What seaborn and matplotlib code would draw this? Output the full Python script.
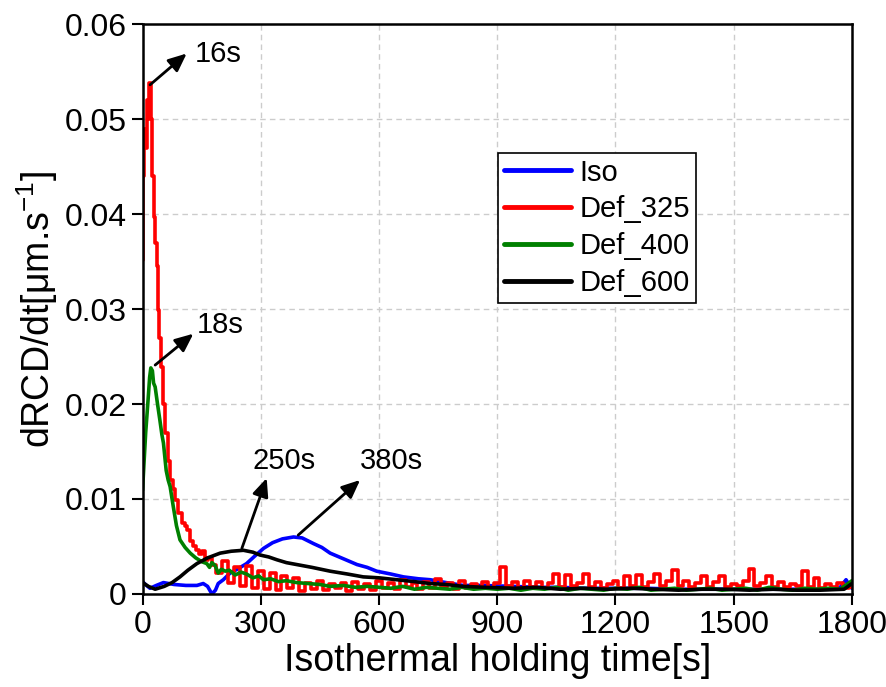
import numpy as np
import pandas as pd
import matplotlib
matplotlib.use("Agg")
import matplotlib.pyplot as plt
import seaborn as sns

## Data (time in s, rate in um/s)
iso_t = [0, 10, 19, 35, 53, 80, 110, 138, 154, 165, 176, 185, 192, 205, 222, 240,
         264, 285, 307, 330, 355, 383, 405, 434, 455, 476, 510, 544, 570, 594, 630,
         662, 700, 730, 770, 814, 860, 941, 1000, 1060, 1120, 1200, 1280, 1360, 1440,
         1520, 1600, 1680, 1740, 1770, 1785, 1795, 1800]
iso_v = [0.0013, 0.0009, 0.0006, 0.0009, 0.0012, 0.0010, 0.0009, 0.0009, 0.0011, 0.0008,
         0.0000, 0.0004, 0.0011, 0.0015, 0.0022, 0.0026, 0.0032, 0.0040, 0.0048, 0.0054,
         0.0058, 0.0060, 0.0059, 0.0053, 0.0049, 0.0043, 0.0037, 0.0031, 0.0028, 0.0024,
         0.0021, 0.0018, 0.0016, 0.0015, 0.0012, 0.0009, 0.0009, 0.0008, 0.0007, 0.0007,
         0.0006, 0.0006, 0.0006, 0.0005, 0.0005, 0.0005, 0.0005, 0.0005, 0.0005, 0.0007,
         0.0015, 0.0008, 0.0006]

d325_t_early = [0, 3, 6, 9, 12, 15, 19, 23, 27, 31, 34, 37, 40, 44, 49, 55, 61, 67, 74,
                80, 87, 95, 103, 110, 116, 124, 133, 140, 148, 155, 163, 170]
d325_v_early = [0.0352, 0.044, 0.049, 0.047, 0.052, 0.050, 0.0538, 0.050, 0.044, 0.0397,
                0.037, 0.0345, 0.0299, 0.027, 0.0239, 0.020, 0.0169, 0.014, 0.012, 0.011,
                0.0099, 0.0085, 0.0075, 0.0072, 0.0067, 0.0056, 0.005, 0.0046, 0.0042,
                0.0045, 0.0036, 0.0038]
# noisy tail, one value every 15 s from 180 s
d325_v_tail = [0.0030, 0.0022, 0.0035, 0.0012, 0.0028, 0.0008, 0.0029, 0.0006, 0.0024, 0.0005,
               0.0022, 0.0004, 0.0019, 0.0006, 0.0017, 0.0003, 0.0012, 0.0005, 0.0014, 0.0004,
               0.0010, 0.0006, 0.0012, 0.0003, 0.0013, 0.0005, 0.0011, 0.0004, 0.0014, 0.0006,
               0.0012, 0.0005, 0.0015, 0.0007, 0.0012, 0.0005, 0.0013, 0.0006, 0.0016, 0.0007,
               0.0012, 0.0005, 0.0014, 0.0006, 0.0011, 0.0007, 0.0013, 0.0006, 0.0012, 0.0028,
               0.0008, 0.0013, 0.0006, 0.0014, 0.0007, 0.0013, 0.0006, 0.0012, 0.0021, 0.0007,
               0.0020, 0.0008, 0.0012, 0.0021, 0.0007, 0.0013, 0.0006, 0.0011, 0.0014, 0.0006,
               0.0019, 0.0008, 0.0020, 0.0007, 0.0013, 0.0021, 0.0008, 0.0014, 0.0025, 0.0008,
               0.0014, 0.0007, 0.0012, 0.0019, 0.0007, 0.0013, 0.0019, 0.0007, 0.0011, 0.0008,
               0.0014, 0.0026, 0.0008, 0.0012, 0.0019, 0.0007, 0.0013, 0.0007, 0.0011, 0.0008,
               0.0024, 0.0007, 0.0017, 0.0006, 0.0010, 0.0007, 0.0012, 0.0006, 0.0007]
d325_t = d325_t_early + [180 + 15 * i for i in range(len(d325_v_tail))]
d325_v = d325_v_early + d325_v_tail

d400_t = [0, 4, 8, 11, 15, 18, 21, 25, 28, 32, 38, 44, 49, 53, 60, 65, 70, 78, 86, 95,
          108, 121, 135, 150, 163, 170, 176, 184, 192, 200, 210, 220, 235, 250, 264, 280,
          295, 307, 325, 345, 365, 391, 420, 450, 476, 510, 540, 570, 603,
          630, 660, 690, 720, 750, 780, 810, 840, 870, 900, 930, 960, 990, 1020, 1050,
          1080, 1110, 1140, 1170, 1200, 1230, 1260, 1290, 1320, 1350, 1380, 1410, 1440,
          1470, 1500, 1530, 1560, 1590, 1620, 1650, 1680, 1710, 1740, 1770, 1800]
d400_v = [0.0109, 0.014, 0.017, 0.0187, 0.021, 0.0228, 0.0238, 0.0235, 0.0222, 0.0218,
          0.020, 0.0183, 0.0168, 0.0159, 0.013, 0.012, 0.0113, 0.0092, 0.0072, 0.0057,
          0.0049, 0.0043, 0.0038, 0.0034, 0.0032, 0.0028, 0.0033, 0.0030, 0.0022, 0.0026,
          0.0024, 0.0025, 0.0020, 0.0023, 0.0021, 0.0017, 0.0019, 0.0015, 0.0016, 0.0013,
          0.0014, 0.0012, 0.0011, 0.0010, 0.0008, 0.0009, 0.0007, 0.0008, 0.0007,
          0.0006, 0.0008, 0.0005, 0.0007, 0.0006, 0.0005, 0.0007, 0.0005, 0.0006, 0.0005,
          0.0006, 0.0004, 0.0006, 0.0005, 0.0007, 0.0004, 0.0006, 0.0005, 0.0004, 0.0006,
          0.0005, 0.0007, 0.0004, 0.0005, 0.0006, 0.0004, 0.0005, 0.0006, 0.0004, 0.0005,
          0.0006, 0.0004, 0.0007, 0.0005, 0.0004, 0.0006, 0.0005, 0.0006, 0.0005, 0.0014]

d600_t = [0, 15, 32, 55, 75, 95, 115, 138, 165, 197, 225, 256, 280, 298, 320, 341, 365,
          391, 430, 476, 520, 560, 600, 645, 690, 730, 770, 814, 870, 941, 1000, 1060,
          1120, 1180, 1240, 1300, 1360, 1420, 1480, 1540, 1600, 1660, 1720, 1780, 1800]
d600_v = [0.0012, 0.0008, 0.0005, 0.0008, 0.0012, 0.0018, 0.0025, 0.0032, 0.0038, 0.0043,
          0.0045, 0.0046, 0.0044, 0.0041, 0.0039, 0.0036, 0.0033, 0.0031, 0.0028, 0.0024,
          0.0021, 0.0018, 0.0017, 0.0015, 0.0013, 0.0011, 0.0010, 0.0008, 0.0007, 0.0006,
          0.0007, 0.0005, 0.0006, 0.0005, 0.0006, 0.0005, 0.0004, 0.0005, 0.0005, 0.0004,
          0.0005, 0.0004, 0.0004, 0.0005, 0.0011]

SERIES = [("Iso", iso_t, iso_v, "#0000ff", "default"),
          ("Def_325", d325_t, d325_v, "#ff0000", "steps-mid"),
          ("Def_400", d400_t, d400_v, "#008000", "default"),
          ("Def_600", d600_t, d600_v, "#000000", "default")]

## Peak annotations: label, arrow tail, arrow head, text position
PEAKS = [("16s", (19, 0.0536), (112, 0.0569), (133, 0.0568), "left"),
         ("18s", (32, 0.0241), (129, 0.0274), (138, 0.0283), "left"),
         ("250s", (252, 0.0048), (315, 0.0122), (359, 0.0140), "center"),
         ("380s", (395, 0.0062), (552, 0.0120), (631, 0.0140), "center")]

X_TICKS = [0, 300, 600, 900, 1200, 1500, 1800]
Y_TICKS = [0, 0.01, 0.02, 0.03, 0.04, 0.05, 0.06]


sns.set_style("ticks")
plt.rcParams["font.family"] = ["Liberation Sans", "DejaVu Sans"]
plt.rcParams["mathtext.fontset"] = "custom"
plt.rcParams["mathtext.rm"] = "Liberation Sans"
plt.rcParams["text.color"] = "black"
plt.rcParams["axes.labelcolor"] = "black"
plt.rcParams["xtick.color"] = "black"
plt.rcParams["ytick.color"] = "black"

fig, ax = plt.subplots(figsize=(8.87, 6.87), dpi=100)
fig.subplots_adjust(left=0.1607, right=0.9605, top=0.965, bottom=0.1354)

for name, t, v, col, ds in SERIES:
    df = pd.DataFrame({"t": t, "v": v})
    sns.lineplot(data=df, x="t", y="v", color=col, lw=2.6, label=name, ax=ax,
                 estimator=None, sort=False, drawstyle=ds)

# arrows pointing from each peak to its label
for lab, tail, head, txt, ha in PEAKS:
    ax.annotate("", xy=head, xytext=tail,
                arrowprops=dict(arrowstyle="-|>,head_length=0.5,head_width=0.22",
                                color="black", lw=2, mutation_scale=22,
                                shrinkA=0, shrinkB=0))
    ax.text(txt[0], txt[1], lab, ha=ha, va="center", fontsize=21)

ax.set_xlim(0, 1800)
ax.set_ylim(0, 0.06)
ax.set_xticks(X_TICKS)
ax.set_yticks(Y_TICKS)
ax.set_yticklabels([f"{y:g}" for y in Y_TICKS])
ax.tick_params(labelsize=23, length=8, width=1.5, direction="out", color="black",
               labelcolor="black")
ax.grid(True, linestyle=(0, (4, 3)), color="#cccccc", lw=1)
for s in ax.spines.values():
    s.set_linewidth(1.8)
    s.set_color("black")

ax.set_xlabel("Isothermal holding time[s]", fontsize=27, labelpad=2)
ax.set_ylabel(r"dRCD/dt[μm.s$^{-1}$]", fontsize=27, labelpad=3)

leg = ax.legend(loc="upper left", bbox_to_anchor=(0.501, 0.774), borderaxespad=0,
                fontsize=21, handlelength=2.3, labelspacing=0.3, handletextpad=0.3,
                borderpad=0.2, fancybox=False, framealpha=1, edgecolor="black")
leg.get_frame().set_linewidth(1.2)
for h in leg.get_lines():
    h.set_linewidth(3.5)
    h.set_drawstyle("default")

fig.savefig("out.png", dpi=100)
